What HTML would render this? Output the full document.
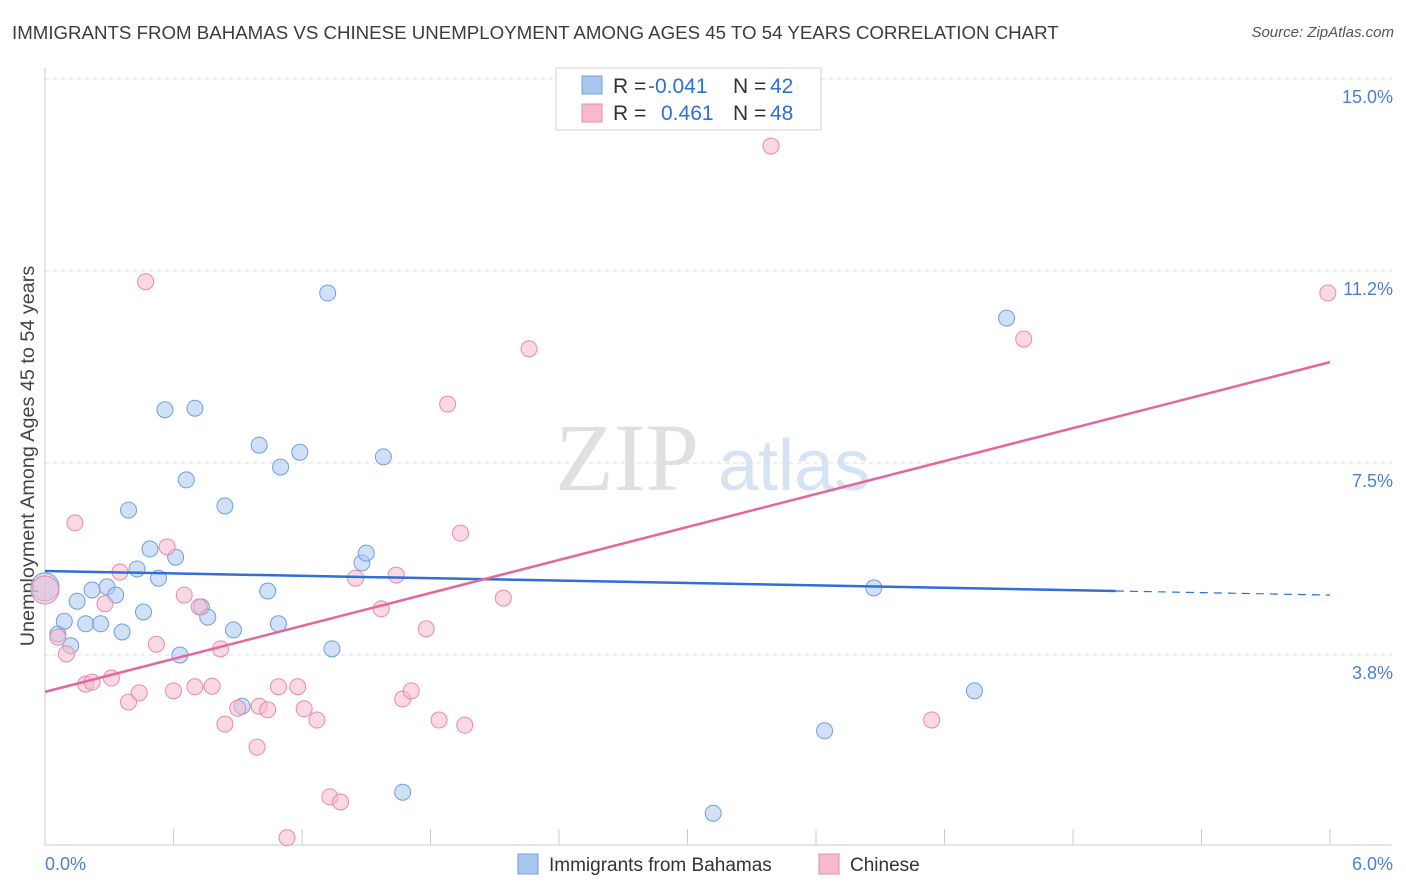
<!DOCTYPE html>
<html><head><meta charset="utf-8">
<style>
body{margin:0;background:#fff;font-family:"Liberation Sans",sans-serif;}
#wrap{position:relative;width:1406px;height:892px;overflow:hidden;}
.title{position:absolute;left:12px;top:22px;font-size:18.7px;color:#3c3c3c;white-space:nowrap;}
.src{position:absolute;right:12px;top:24px;font-size:15px;color:#555;font-style:italic;}
</style></head>
<body>
<div id="wrap">
<div class="title">IMMIGRANTS FROM BAHAMAS VS CHINESE UNEMPLOYMENT AMONG AGES 45 TO 54 YEARS CORRELATION CHART</div>
<div class="src">Source: ZipAtlas.com</div>
<svg id="svg" width="1406" height="892" style="position:absolute;left:0;top:0"></svg>
</div>
<script>
const xTicksPct=[0,0.6,1.2,1.8,2.4,3.0,3.6,4.2,4.8,5.4,6.0];
const yTicks=[3.75,7.5,11.25,15.0];
const yTickLabels=["3.8%","7.5%","11.2%","15.0%"];
const xTickLabels=["0.0%","6.0%"];
const blueX=[0.00,0.06,0.09,0.12,0.15,0.19,0.22,0.26,0.29,0.33,0.36,0.39,0.43,0.46,0.49,0.53,0.56,0.61,0.63,0.66,0.70,0.73,0.76,0.84,0.88,0.92,1.00,1.04,1.09,1.10,1.19,1.32,1.34,1.48,1.50,1.58,1.67,3.12,3.64,3.87,4.34,4.49];
const blueY=[5.08,4.16,4.41,3.93,4.80,4.36,5.02,4.36,5.08,4.92,4.20,6.58,5.43,4.59,5.82,5.25,8.54,5.66,3.75,7.17,8.57,4.69,4.49,6.66,4.24,2.75,7.85,5.00,4.36,7.42,7.71,10.82,3.87,5.55,5.74,7.62,1.07,0.66,2.27,5.06,3.05,10.33];
const pinkX=[0.00,0.06,0.10,0.14,0.19,0.22,0.28,0.31,0.35,0.39,0.44,0.47,0.52,0.57,0.60,0.65,0.70,0.72,0.78,0.82,0.84,0.90,0.99,1.00,1.04,1.09,1.13,1.18,1.21,1.27,1.33,1.38,1.45,1.57,1.64,1.67,1.71,1.78,1.84,1.88,1.94,1.96,2.14,2.26,3.39,4.14,4.57,5.99];
const pinkY=[5.02,4.10,3.77,6.33,3.18,3.22,4.75,3.30,5.37,2.83,3.01,11.04,3.96,5.86,3.05,4.92,3.13,4.69,3.14,3.87,2.40,2.71,1.95,2.75,2.68,3.13,0.18,3.13,2.70,2.48,0.98,0.88,5.25,4.65,5.31,2.89,3.05,4.26,2.48,8.65,6.13,2.38,4.86,9.73,13.69,2.48,9.92,10.82];
const blueTrendX=[0,5.0,6.0];
const blueTrendY=[5.39,5.00,4.92];
const pinkTrendX=[0,6.0];
const pinkTrendY=[3.03,9.47];

const X0=45,X1=1330,Y0=847,PPY=51.2;
const sx=v=>X0+(X1-X0)*v/6;
const sy=v=>Y0-v*PPY;
const svg=document.getElementById('svg');
const NS='http://www.w3.org/2000/svg';
function mk(tag,attrs,parent){const e=document.createElementNS(NS,tag);for(const k in attrs)e.setAttribute(k,attrs[k]);(parent||svg).appendChild(e);return e;}

let wm=mk('text',{x:555,y:490,'font-size':96,'font-family':'Liberation Serif',fill:'#e0e0e0'});
wm.textContent='ZIP';


let wm2=mk('text',{x:718,y:490,'font-size':72,'font-family':'Liberation Sans',fill:'#d5e3f5'});
wm2.textContent='atlas';



yTicks.forEach((t,i)=>{
  let g=mk('line',{x1:X0,x2:1392,y1:sy(t),y2:sy(t),stroke:'#dcdcdc','stroke-dasharray':'4,4'});
  
  
  let l=mk('text',{x:1393,y:sy(t)+24,'text-anchor':'end','font-size':18,fill:'#4a7fd4'});
  l.textContent=yTickLabels[i];
  
  
});
let ax=mk('line',{x1:X0,x2:X0,y1:68,y2:845,stroke:'#ccc'});


let bx=mk('line',{x1:X0,x2:1392,y1:845,y2:845,stroke:'#ccc'});


xTicksPct.forEach(t=>{
  let tk=mk('line',{x1:sx(t),x2:sx(t),y1:829,y2:845,stroke:'#ccc'});
  
  
});
let xl0=mk('text',{x:45,y:870,'font-size':18,fill:'#4a7fd4'});
xl0.textContent=xTickLabels[0];


let xl1=mk('text',{x:1393,y:870,'text-anchor':'end','font-size':18,fill:'#4a7fd4'});
xl1.textContent=xTickLabels[1];


let yt=mk('text',{x:34,y:456,'font-size':19.8,fill:'#444','text-anchor':'middle',transform:'rotate(-90 34 456)'});
yt.textContent='Unemployment Among Ages 45 to 54 years';



function pts(xs,ys,fill,stroke,name){
  xs.forEach((v,i)=>{
    const r=(i===0)?14:8;
    let c=mk('circle',{cx:sx(v),cy:sy(ys[i]),r:r,fill:fill,'fill-opacity':0.55,stroke:stroke,'stroke-width':1});
    
    
  });
}
pts(blueX,blueY,'#a9c7ee','#6f9fdb','bahamas-point');
pts(pinkX,pinkY,'#f6b9cd','#e78aa9','chinese-point');

let bt=mk('line',{x1:sx(blueTrendX[0]),y1:sy(blueTrendY[0]),x2:sx(blueTrendX[1]),y2:sy(blueTrendY[1]),stroke:'#2f6fd6','stroke-width':2.5});


let bd=mk('line',{x1:sx(blueTrendX[1]),y1:sy(blueTrendY[1]),x2:sx(blueTrendX[2]),y2:sy(blueTrendY[2]),stroke:'#2f6fd6','stroke-width':1.2,'stroke-dasharray':'8,6'});


let pt=mk('line',{x1:sx(pinkTrendX[0]),y1:sy(pinkTrendY[0]),x2:sx(pinkTrendX[1]),y2:sy(pinkTrendY[1]),stroke:'#e5679a','stroke-width':2.5});



let lg=mk('g',{});


mk('rect',{x:556,y:68,width:265,height:62,fill:'#fff',stroke:'#d0d0d0'},lg);
mk('rect',{x:582,y:76,width:20,height:18,fill:'#a9c7ee',stroke:'#6f9fdb'},lg);
mk('rect',{x:582,y:104,width:20,height:18,fill:'#f6b9cd',stroke:'#e78aa9'},lg);
function tx(x,y,s,c,name){let t=mk('text',{x:x,y:y,'font-size':21,fill:c},lg);t.textContent=s;}
tx(613,93,'R =','#333','legend-r-label');
tx(648,93,'-0.041','#2f6fd6','legend-r-bahamas');
tx(733,93,'N =','#333','legend-n-label');
tx(770,93,'42','#2f6fd6','legend-n-bahamas');
tx(613,120,'R =','#333','legend-r-label');
tx(661,120,'0.461','#2f6fd6','legend-r-chinese');
tx(733,120,'N =','#333','legend-n-label');
tx(770,120,'48','#2f6fd6','legend-n-chinese');

let bl=mk('g',{});


mk('rect',{x:518,y:854,width:20,height:20,fill:'#a9c7ee',stroke:'#6f9fdb'},bl);
let b1=mk('text',{x:549,y:871,'font-size':19,fill:'#333'},bl);
b1.textContent='Immigrants from Bahamas';


mk('rect',{x:819,y:854,width:20,height:20,fill:'#f6b9cd',stroke:'#e78aa9'},bl);
let b2=mk('text',{x:850,y:871,'font-size':19,fill:'#333'},bl);
b2.textContent='Chinese';


</script>
</body></html>
